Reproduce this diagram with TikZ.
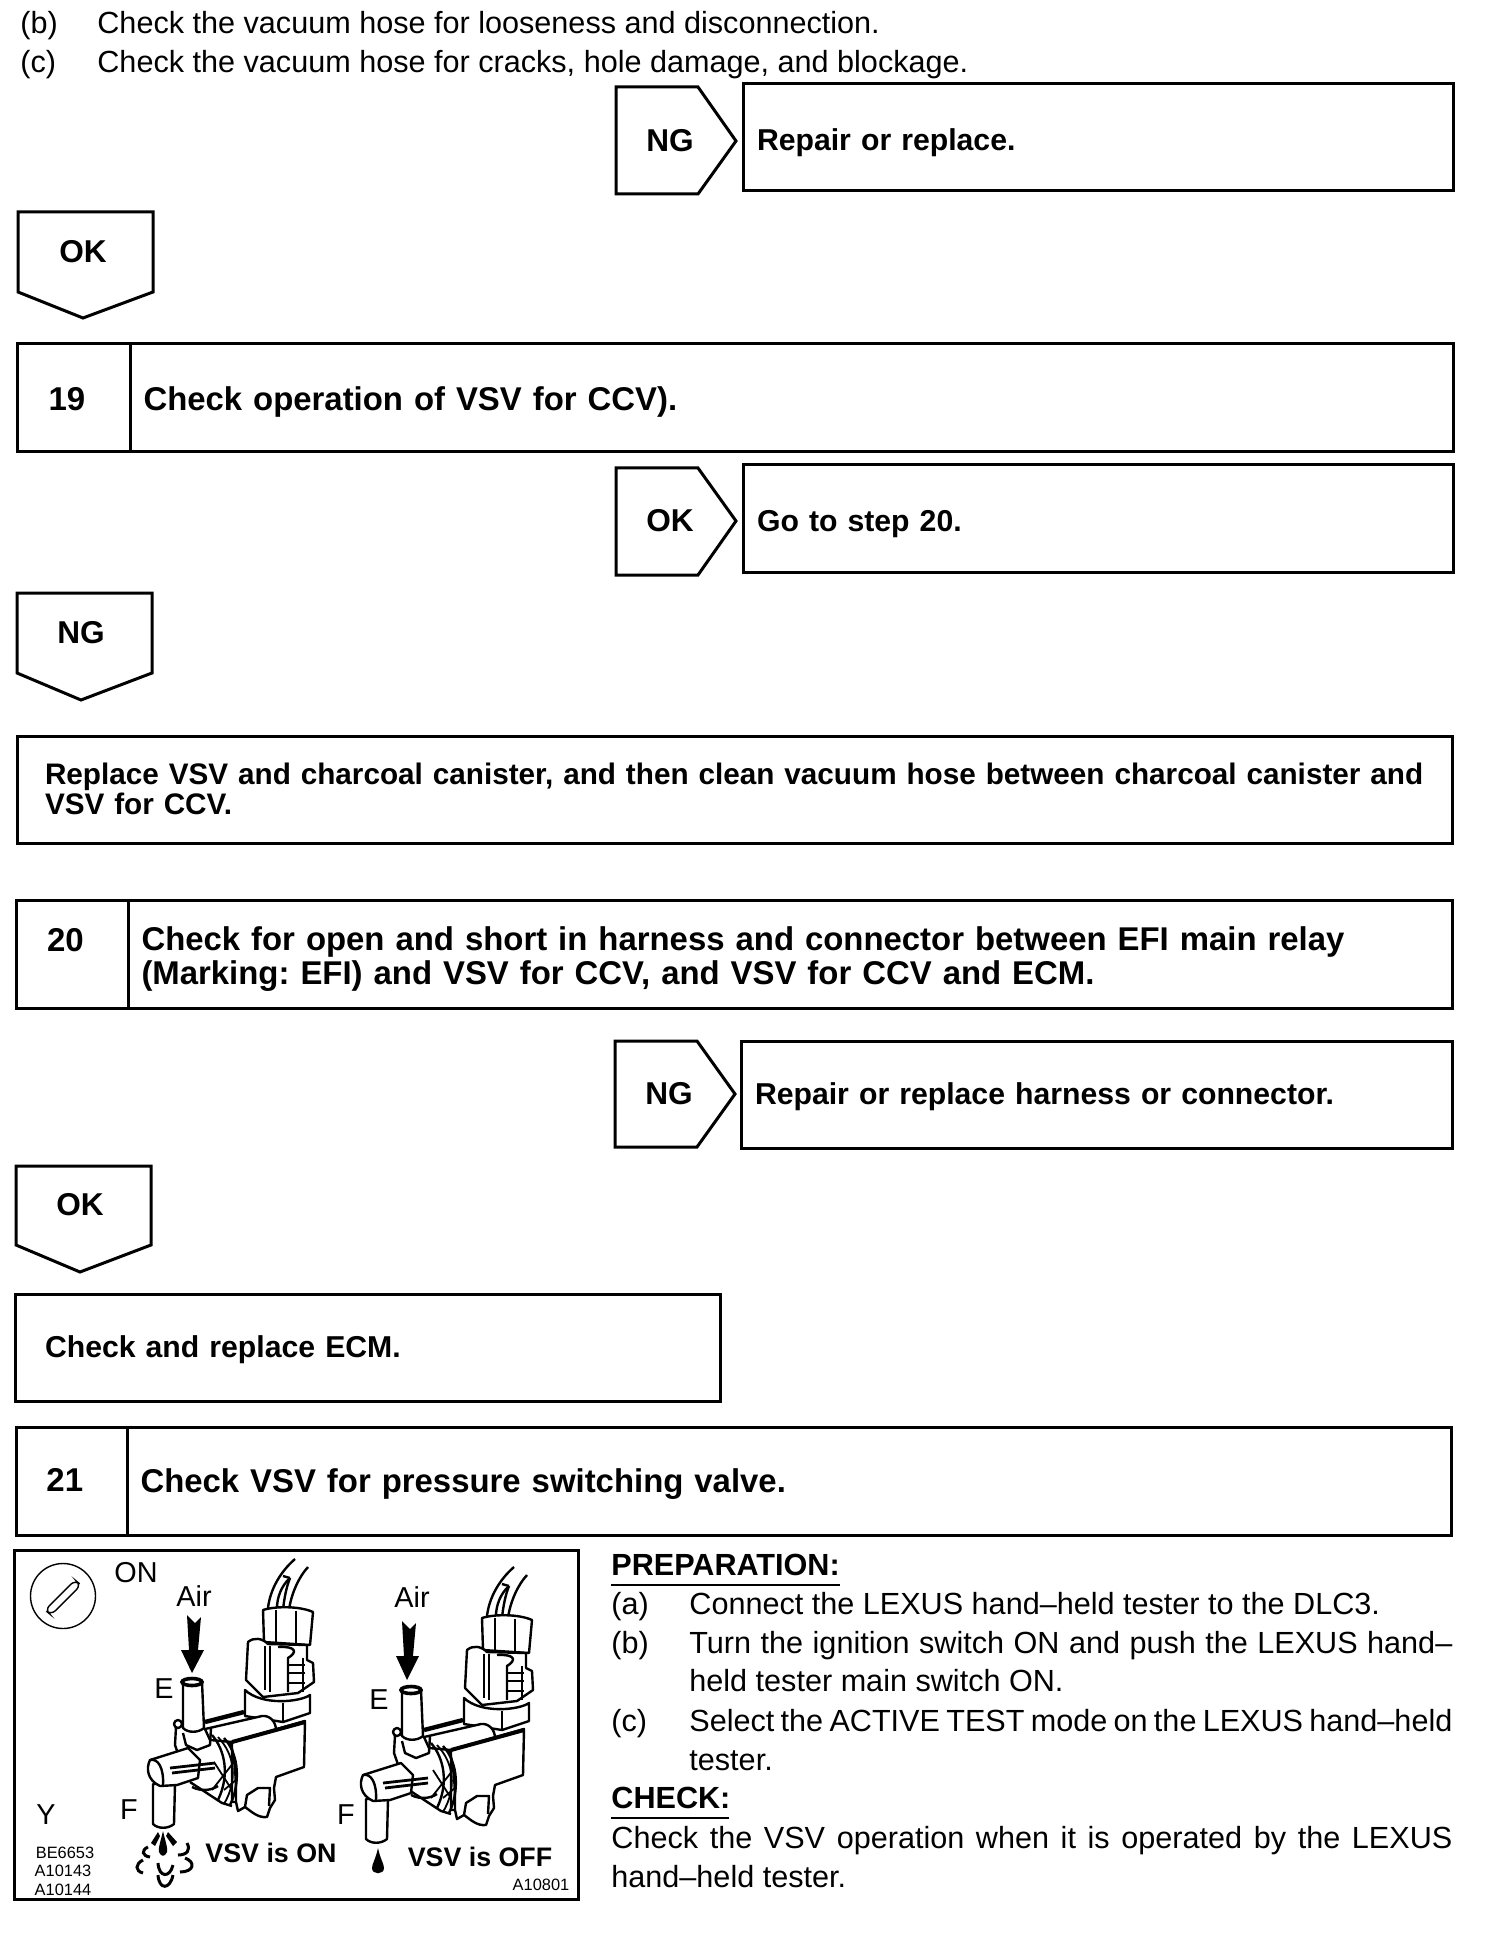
\documentclass[tikz,border=0pt]{standalone}
\usepackage{fontspec}
\usepackage{tikz}
\usetikzlibrary{positioning}
\setmainfont{Liberation Sans}
\frenchspacing
\tikzset{
  tagline/.style={draw, line width=1.5pt, line join=miter},
  tagtext/.style={font=\fontsize{15.8}{18}\selectfont\bfseries, inner sep=0pt},
  answerbox/.style={draw, line width=1.5pt, anchor=north west, outer sep=0pt,
                    minimum height=53.5pt, align=left, inner ysep=0pt, inner xsep=7pt,
                    text height=13.5pt, text depth=0pt,
                    font=\fontsize{15.1}{15}\selectfont\bfseries},
  stepnum/.style={draw, line width=1.5pt, anchor=north west, outer sep=0pt,
                  minimum height=54pt, inner sep=0pt, align=left, text width=25pt,
                  text height=12.5pt, text depth=0pt,
                  font=\fontsize{16.5}{18}\selectfont\bfseries},
  steptext/.style={draw, line width=1.5pt, outer sep=0pt, minimum height=54pt,
                   align=left, inner ysep=0pt, inner xsep=6.75pt,
                   text height=12.5pt, text depth=0pt,
                   font=\fontsize{16.45}{17.2}\selectfont\bfseries},
  bodytext/.style={anchor=base west, inner sep=0pt, font=\fontsize{15.3}{18}\selectfont},
  bodyhead/.style={anchor=base west, inner sep=0pt, font=\fontsize{15.3}{18}\selectfont\bfseries},
  figlabel/.style={inner sep=0pt, font=\fontsize{14.4}{16}\selectfont},
  figcode/.style={inner sep=0pt, font=\fontsize{8.2}{9}\selectfont},
  figstate/.style={inner sep=0pt, font=\fontsize{13.4}{15}\selectfont\bfseries},
  vsvline/.style={draw, line width=1.2pt, line join=round},
  vsvthin/.style={draw, line width=0.9pt},
  sprayline/.style={draw, line width=1.5pt},
  vsvbody/.pic={
    % Wires
    \draw[vsvline] (295,1559) .. controls (280,1572) and (270,1590) .. (268,1608);
    \draw[vsvline] (308,1567) .. controls (298,1578) and (291,1595) .. (289,1610);
    \draw[vsvline] (290,1578) .. controls (281,1586) and (277,1598) .. (277,1608);
    \draw[vsvline] (290,1578) .. controls (286,1588) and (284,1600) .. (283,1610);
    \draw[vsvline] (283,1576) -- (290,1578);
    % Connector
    \draw[vsvline, fill=white] (263,1610) -- (264,1642) -- (310,1645) -- (313,1612)
      .. controls (300,1606) and (275,1606) .. (263,1610) -- cycle;
    \draw[vsvline] (276,1610) -- (276,1643);
    \draw[vsvline] (296,1611) -- (296,1645);
    \draw[vsvline, fill=white] (248,1642) -- (246,1680) -- (263,1697) -- (298,1693)
      -- (314,1682) -- (313,1663) -- (307,1660) -- (307,1645)
      -- (268,1644) .. controls (262,1638) and (254,1637) .. (248,1642) -- cycle;
    \draw[vsvthin] (265,1646) -- (265,1690);
    \draw[vsvthin] (270,1646) -- (270,1692);
    \draw[vsvline] (278,1647) .. controls (296,1646) and (298,1652) .. (288,1658) -- (288,1692);
    \draw[vsvthin] (288,1665) -- (305,1665);
    \draw[vsvthin] (288,1673) -- (305,1673);
    \draw[vsvthin] (288,1683) -- (305,1683);
    \draw[vsvthin] (303,1658) -- (303,1692);
    % Base block
    \draw[vsvline, fill=white] (245,1690) -- (245,1716) -- (283,1722) -- (310,1713)
      -- (310,1695) .. controls (300,1702) and (262,1706) .. (245,1690) -- cycle;
    \draw[vsvthin] (283,1703) -- (283,1722);
    % Cylinder
    \draw[vsvline, fill=white] (205,1729) -- (262,1716)
      .. controls (270,1715) and (276,1722) .. (276,1730) -- (232,1742) -- (210,1740) -- cycle;
    \draw[draw, line width=2.2pt] (205,1722) -- (244,1712);
    % Housing
    \draw[vsvline, fill=white] (232,1742) -- (305,1721) -- (304,1767) -- (276,1777)
      -- (274,1788) -- (275,1800) -- (270,1808) -- (267,1817)
      .. controls (258,1818) and (252,1812) .. (245,1807) -- (238,1811) -- (236,1802)
      -- (232,1802) -- cycle;
    \draw[vsvline] (245,1807) -- (247,1795) -- (258,1788) -- (270,1788) -- (269,1806);
    \draw[draw, line width=2pt] (232,1742) -- (305,1722);
    % Coil
    \draw[vsvline] (212,1735) .. controls (225,1750) and (230,1775) .. (218,1800);
    \draw[vsvthin] (218,1737) .. controls (235,1755) and (238,1780) .. (224,1804);
    \draw[vsvline] (224,1738) .. controls (240,1755) and (240,1785) .. (230,1805);
    \draw[vsvline] (230,1742) .. controls (236,1760) and (236,1785) .. (236,1802);
    \draw[vsvthin] (214,1762) -- (232,1790);
    \draw[vsvthin] (212,1790) -- (234,1762);
    \draw[vsvthin] (224,1790) -- (236,1780);
    % Collar and tail
    \draw[vsvline] (176,1727) -- (175,1745) -- (182,1765);
    \draw[vsvline, fill=white] (178,1724) circle (4);
    \draw[vsvline] (190,1782) -- (222,1803) -- (232,1806);
    \draw[vsvline] (192,1787) .. controls (202,1792) and (212,1790) .. (218,1786);
    \draw[vsvline] (183,1733) -- (186,1745) -- (197,1750) -- (210,1745) -- (211,1728);
    % Tube E
    \draw[vsvline, fill=white] (183,1682) -- (183,1728)
      .. controls (188,1733) and (198,1733) .. (204,1728) -- (202,1682) -- cycle;
    \draw[draw, line width=1.8pt, fill=white] (192,1682) ellipse (10 and 3.5);
  },
  vsvelbow/.pic={
    % Tube F
    \draw[vsvline, fill=white] (153,1784) -- (153,1824)
      .. controls (158,1829) and (168,1829) .. (174,1824) -- (175,1784) -- cycle;
    % Elbow
    \draw[vsvline, fill=white] (150,1760) .. controls (146,1768) and (147,1780) .. (160,1786)
      -- (177,1785) -- (198,1778) -- (200,1760) -- (188,1748) -- cycle;
    \draw[vsvline] (150,1760) .. controls (158,1758) and (164,1768) .. (163,1785);
    \draw[draw, line width=1.4pt] (170,1768) -- (215,1763);
    \draw[draw, line width=1.4pt] (172,1773) -- (215,1768);
  },
}
\begin{document}
\begin{tikzpicture}[x=0.5pt, y=-0.5pt]
  \useasboundingbox (0,0) rectangle (1504,1936);

  % Top items
  \node[bodytext] (itemb) at (20,34) {(b)};
  \node[bodytext] (itembtext) at (97,34) {Check the vacuum hose for looseness and disconnection.};
  \node[bodytext] (itemc) at (20,73) {(c)};
  \node[bodytext] (itemctext) at (97,73) {Check the vacuum hose for cracks, hole damage, and blockage.};

  % Repair
  \draw[tagline] (616,87) -- (698,87) -- (736,141) -- (698,194) -- (616,194) -- cycle;
  \node[tagtext] (ngrepair) at (670,141) {NG};
  \node[answerbox, minimum width=355pt, text width=341pt] (repair) at (743,84) {Repair or replace.};

  \draw[tagline] (18,212) -- (153,212) -- (153,292) -- (83,318) -- (18,292) -- cycle;
  \node[tagtext] (oknineteen) at (83,252) {OK};

  % Step 19
  \node[stepnum, minimum width=56.5pt] (nineteen) at (17,344) {19};
  \node[steptext, right=0pt of nineteen, minimum width=661.5pt, text width=648pt] (nineteentext)
    {Check operation of VSV for CCV).};

  \draw[tagline] (616,468) -- (698,468) -- (736,521) -- (698,575) -- (616,575) -- cycle;
  \node[tagtext] (okgo) at (670,521) {OK};
  \node[answerbox, minimum width=355pt, text width=341pt, text height=12.5pt] (goto) at (743,465) {Go to step 20.};

  \draw[tagline] (17,593) -- (152,593) -- (152,673) -- (81,700) -- (17,673) -- cycle;
  \node[tagtext] (ngreplace) at (81,633) {NG};

  \node[answerbox, minimum width=717.5pt, text width=689.5pt, inner xsep=14pt, text height=0pt, text depth=5.5pt,
        font=\fontsize{14.85}{15}\selectfont\bfseries] (replace) at (17,736)
    {\mbox{Replace VSV and charcoal canister, and then clean vacuum hose between charcoal canister and}\\VSV for CCV.};

  % Step 20
  \node[stepnum, minimum width=56pt, text height=0pt, text depth=3pt] (twenty) at (16,900) {20};
  \node[steptext, right=0pt of twenty, minimum width=662pt, text width=648.5pt, text height=0pt, text depth=4pt] (twentytext)
    {\mbox{Check for open and short in harness and connector between EFI main relay}\\(Marking: EFI) and VSV for CCV, and VSV for CCV and ECM.};

  \draw[tagline] (615,1041) -- (697,1041) -- (735,1094) -- (697,1147) -- (615,1147) -- cycle;
  \node[tagtext] (ngharness) at (669,1094) {NG};
  \node[answerbox, minimum width=355.5pt, text width=341.5pt, text height=10pt] (harness) at (741,1041)
    {Repair or replace harness or connector.};

  \draw[tagline] (16,1166) -- (151,1166) -- (151,1245) -- (80,1272) -- (16,1245) -- cycle;
  \node[tagtext] (okecm) at (80,1205) {OK};

  \node[answerbox, minimum width=352.5pt, text width=322.5pt, inner xsep=15pt, text height=10pt] (ecm) at (15,1294) {Check and replace ECM.};

  % Step 21
  \node[stepnum, minimum width=55.5pt, text height=10.5pt] (twentyone) at (16,1427) {21};
  \node[steptext, right=0pt of twentyone, minimum width=662pt, text width=648.5pt, text height=11.5pt] (twentyonetext)
    {Check VSV for pressure switching valve.};

  % Figure frame
  \draw[line width=1.5pt] (14,1550) rectangle (578,1899);

  % Ignition switch
  \draw[line width=0.7pt] (63,1596) circle (32.5);
  \draw[line width=0.7pt, rounded corners=3pt] (45,1610) -- (75,1580) -- (81,1585) -- (51,1615) -- cycle;

  % Valves
  \pic (valveon) at (0,0) {vsvbody};
  \pic (valveonelbow) at (0,0) {vsvelbow};
  \pic (valveoff) at (219,8) {vsvbody};
  \pic (valveoffelbow) at (213,15) {vsvelbow};

  % Air arrows
  \fill (187,1615) -- (195,1623) -- (201,1617) -- (198,1650) -- (204,1650)
    -- (192,1673) -- (181,1650) -- (189,1650) -- cycle;
  \fill (402,1621) -- (410,1629) -- (416,1623) -- (413,1656) -- (419,1656)
    -- (407,1680) -- (396,1656) -- (404,1656) -- cycle;

  % Spray
  \fill (163,1831) .. controls (165,1840) and (168,1848) .. (167,1852)
    .. controls (165,1857) and (161,1857) .. (159,1852) .. controls (158,1848) and (161,1840) .. (163,1831) -- cycle;
  \fill (158,1832) -- (160,1836) -- (155,1846) -- (151,1843) -- cycle;
  \fill (168,1832) -- (166,1836) -- (173,1846) -- (177,1842) -- cycle;
  \draw[sprayline] (148,1847) .. controls (141,1850) and (142,1856) .. (150,1857);
  \draw[sprayline] (187,1843) .. controls (191,1850) and (187,1855) .. (178,1855);
  \draw[sprayline] (143,1860) .. controls (135,1864) and (135,1871) .. (143,1873);
  \draw[sprayline] (185,1858) .. controls (196,1862) and (194,1872) .. (180,1872);
  \draw[sprayline] (158,1863) .. controls (159,1878) and (170,1878) .. (173,1865);
  \draw[sprayline] (158,1875) .. controls (159,1890) and (170,1890) .. (173,1875);

  % Drip
  \fill (378,1848) .. controls (380,1858) and (384,1864) .. (384,1868)
    .. controls (384,1875) and (372,1875) .. (372,1868) .. controls (372,1864) and (376,1858) .. (378,1848) -- cycle;

  % Figure labels
  \node[figlabel] (onlabel) at (136,1573) {ON};
  \node[figlabel] (airon) at (194,1596) {Air};
  \node[figlabel] (airoff) at (412,1597) {Air};
  \node[figlabel] (eon) at (164,1689) {E};
  \node[figlabel] (eoff) at (379,1700) {E};
  \node[figlabel] (fon) at (129,1810) {F};
  \node[figlabel] (foff) at (346,1815) {F};
  \node[figlabel] (ylabel) at (46,1815) {Y};
  \node[figcode] (codea) at (65,1853) {BE6653};
  \node[figcode] (codeb) at (63,1871) {A10143};
  \node[figcode] (codec) at (63,1890) {A10144};
  \node[figcode] (coded) at (541,1885) {A10801};
  \node[figstate] (stateon) at (271,1853) {VSV is ON};
  \node[figstate] (stateoff) at (480,1857) {VSV is OFF};

  % Preparation
  \node[bodyhead] (preparation) at (611,1575) {PREPARATION:};
  \draw[line width=0.8pt] (preparation.base west)+(0,10) -- (840,1585);
  \node[bodytext] (prepa) at (611,1614) {(a)};
  \node[bodytext] (prepatext) at (689,1614) {Connect the LEXUS hand--held tester to the DLC3.};
  \node[bodytext] (prepb) at (611,1653) {(b)};
  \node[bodytext] (prepbtext) at (689,1653) {\makebox[381.5pt][s]{Turn the ignition switch ON and push the LEXUS hand--}};
  \node[bodytext] (prepbmore) at (689,1691) {held tester main switch ON.};
  \node[bodytext] (prepc) at (611,1731) {(c)};
  \node[bodytext] (prepctext) at (689,1731) {\makebox[381.5pt][s]{Select the ACTIVE TEST mode on the LEXUS hand--held}};
  \node[bodytext] (prepcmore) at (689,1770) {tester.};

  % Check
  \node[bodyhead] (checkhead) at (611,1808) {CHECK:};
  \draw[line width=0.8pt] (checkhead.base west)+(0,10) -- (729,1818);
  \node[bodytext] (checkline) at (611,1848) {\makebox[420.5pt][s]{Check the VSV operation when it is operated by the LEXUS}};
  \node[bodytext] (checkmore) at (611,1887) {hand--held tester.};
\end{tikzpicture}
\end{document}
